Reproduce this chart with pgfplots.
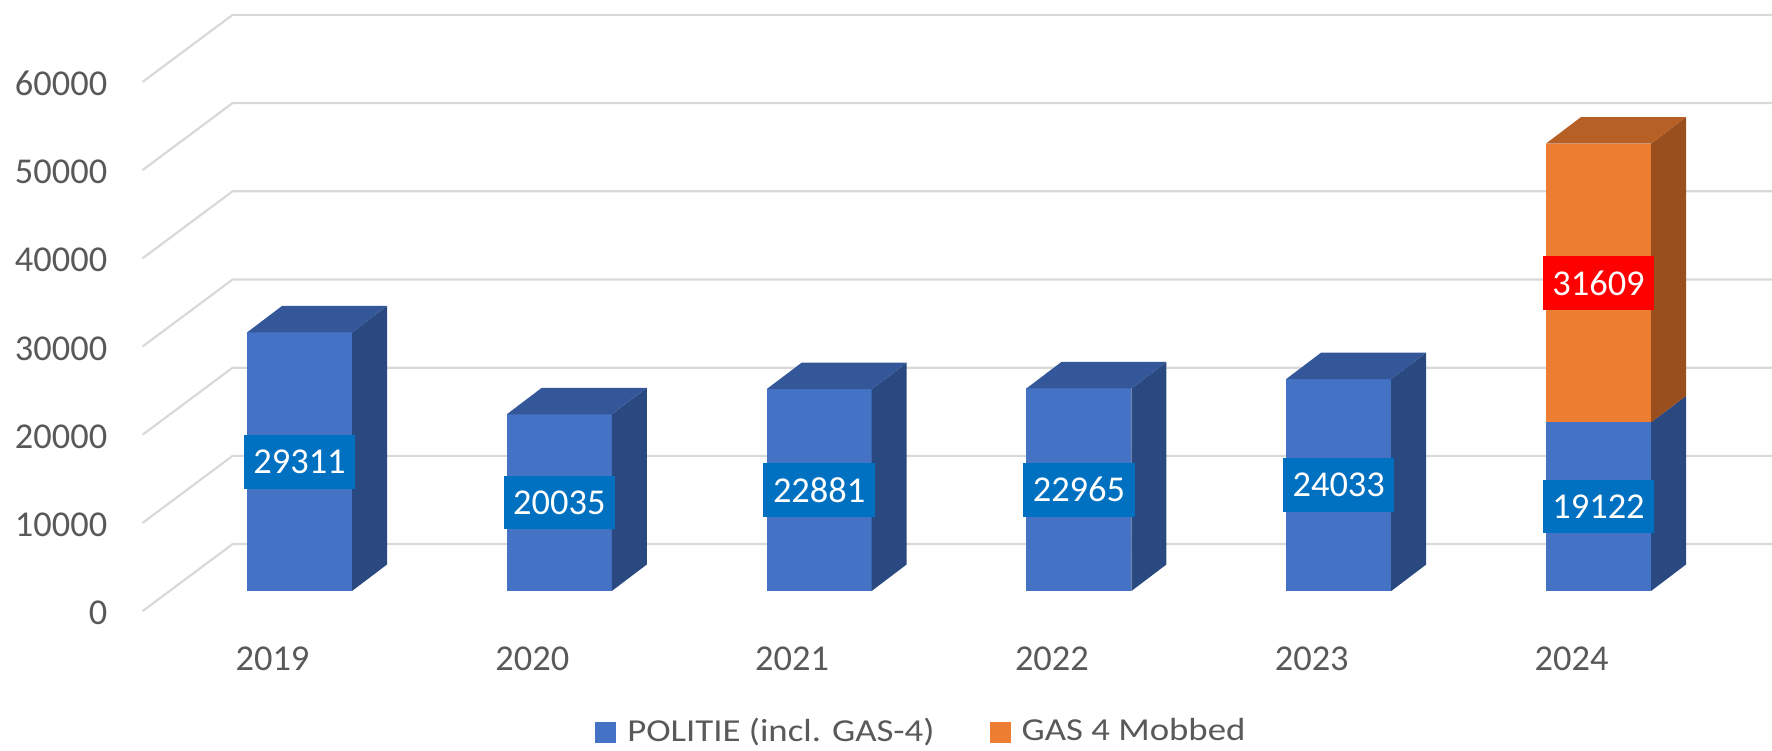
\documentclass[border=0pt]{standalone}
\usepackage{pgfplots}
\pgfplotsset{compat=1.18}
\usepackage{pgfplotstable}
\usepackage{fontspec}
\setmainfont{Carlito}
\newfontfamily\legfont{Carlito}[FakeStretch=1.15]
\definecolor{barblue}{HTML}{4472C4}
\definecolor{topblue}{HTML}{34579A}
\definecolor{sideblue}{HTML}{2A4980}
\definecolor{barorange}{HTML}{ED7D31}
\definecolor{toporange}{HTML}{B66026}
\definecolor{sideorange}{HTML}{9A4F1F}
\definecolor{lblblue}{HTML}{0070C0}
\definecolor{lblred}{HTML}{FF0000}
\definecolor{gridc}{HTML}{D9D9D9}
\definecolor{textgray}{HTML}{595959}
\newcommand\fsz{\fontsize{9.1pt}{10pt}\selectfont}
\newcommand\lsz{\legfont\fontsize{8pt}{9pt}\selectfont}

\pgfplotstableread{
idx year pol gas
0 2019 29311 0
1 2020 20035 0
2 2021 22881 0
3 2022 22965 0
4 2023 24033 0
5 2024 19122 31609
}\datatable

\tikzset{
 blbl/.style={fill=lblblue, text=white, font=\fsz, inner xsep=2.4pt, inner ysep=0pt, minimum height=13.4pt, anchor=center},
 rlbl/.style={blbl, fill=lblred},
}

\begin{document}
\begin{tikzpicture}
\path[use as bounding box] (0,0) rectangle (443pt,187.5pt);
\begin{axis}[
  at={(0,0)}, anchor=south west, scale only axis, width=443pt, height=187.5pt,
  xmin=-1.15281, xmax=5.66782, ymin=-18027.2, ymax=67006.8,
  axis line style={draw=none}, major tick length=0pt, tick style={draw=none},
  xtick={0,1,2,3,4,5}, xticklabels={2019,2020,2021,2022,2023,2024},
  ytick={0,10000,20000,30000,40000,50000,60000},
  yticklabels={0,10000,20000,30000,40000,50000,60000},
  xticklabel style={font=\fsz, text=textgray, anchor=center, inner sep=0pt, xshift=-6.75pt, yshift=22.9pt},
  yticklabel style={font=\fsz, text=textgray, anchor=east, inner sep=0pt, xshift=27pt, yshift=-5.5pt},
  legend columns=2,
  legend image code/.code={\path[#1, draw=none] (0pt,-2.55pt) rectangle (5.25pt,2.55pt);},
  legend style={at={(rel axis cs:0.3355,0.0233)}, anchor=west, draw=none, fill=none, inner sep=0pt, font=\lsz, text=textgray, nodes={inner sep=0pt},
    /tikz/every odd column/.append style={column sep=2.75pt},
    /tikz/every even column/.append style={column sep=13.75pt}},
]
% gridlines (3D walls)
\pgfplotsinvokeforeach{0,10000,20000,30000,40000,50000,60000}{
  \edef\temp{\noexpand\addplot[draw=gridc, line width=0.55pt, forget plot] coordinates {(-0.60393,\fpeval{#1-2278.9}) (-0.25751,\fpeval{#1+5317.5}) (5.8,\fpeval{#1+5317.5})};}\temp
}
% bars
\pgfplotsinvokeforeach{0,...,5}{
  \pgfplotstablegetelem{#1}{pol}\of\datatable \edef\vp{\pgfplotsretval}
  \pgfplotstablegetelem{#1}{gas}\of\datatable \edef\vg{\pgfplotsretval}
  \edef\xl{\fpeval{#1-0.20208}}
  \edef\xr{\fpeval{#1+0.20208}}
  \edef\xlb{\fpeval{#1-0.20208+0.13472}}
  \edef\xrb{\fpeval{#1+0.20208+0.13472}}
  \edef\ypb{\fpeval{\vp+3005}}
  \edef\ytot{\fpeval{\vp+\vg}}
  \edef\ytotb{\fpeval{\vp+\vg+3005}}
  \edef\temp{%
    \noexpand\addplot[fill=barblue, draw=none, forget plot] coordinates {(\xl,0) (\xr,0) (\xr,\vp) (\xl,\vp)};
    \noexpand\addplot[fill=sideblue, draw=none, forget plot] coordinates {(\xr,0) (\xrb,3005) (\xrb,\ypb) (\xr,\vp)};
  }\temp
  \ifnum\vg=0
    \edef\temp{\noexpand\addplot[fill=topblue, draw=none, forget plot] coordinates {(\xl,\vp) (\xlb,\ypb) (\xrb,\ypb) (\xr,\vp)};}\temp
  \else
    \edef\temp{%
     \noexpand\addplot[fill=barorange, draw=none, forget plot] coordinates {(\xl,\vp) (\xr,\vp) (\xr,\ytot) (\xl,\ytot)};
     \noexpand\addplot[fill=sideorange, draw=none, forget plot] coordinates {(\xr,\vp) (\xrb,\ypb) (\xrb,\ytotb) (\xr,\ytot)};
     \noexpand\addplot[fill=toporange, draw=none, forget plot] coordinates {(\xl,\ytot) (\xlb,\ytotb) (\xrb,\ytotb) (\xr,\ytot)};
     \noexpand\node[rlbl] at (axis cs:#1,\fpeval{\vp+\vg/2}) {\vg};
    }\temp
  \fi
  \edef\temp{\noexpand\node[blbl] at (axis cs:#1,\fpeval{\vp/2}) {\vp};}\temp
}
\addlegendimage{fill=barblue, draw=none}
\addlegendentry{POLITIE (incl. GAS-4)}
\addlegendimage{fill=barorange, draw=none}
\addlegendentry{GAS 4 Mobbed}
\end{axis}
\end{tikzpicture}
\end{document}
